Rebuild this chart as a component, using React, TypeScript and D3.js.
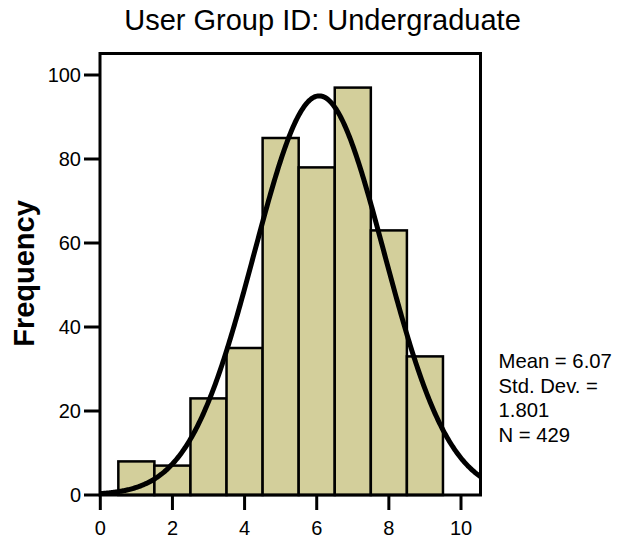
import React from "react";
import * as d3 from "d3";

const binCenters = [1, 2, 3, 4, 5, 6, 7, 8, 9];
const frequencies = [8, 7, 23, 35, 85, 78, 97, 63, 33];
const xTicks = [0, 2, 4, 6, 8, 10];
const yTicks = [0, 20, 40, 60, 80, 100];
const statsLines = ["Mean = 6.07", "Std. Dev. =", "1.801", "N = 429"];
const mean = 6.07;
const sd = 1.801;
const n = 429;
const binWidth = 1;

const W = 619;
const H = 542;
const left = 100;
const right = 480.5;
const top = 53.5;
const bottom = 495;
const font = "Liberation Sans, Arial, Helvetica, sans-serif";

export default function App() {
  const x = d3.scaleLinear().domain([0, 10]).range([100.3, 461]);
  const y = d3.scaleLinear().domain([0, 100]).range([495, 75]);
  const xMax = x.invert(right);
  const pdf = (v: number) =>
    (n * binWidth) / (sd * Math.sqrt(2 * Math.PI)) * Math.exp(-((v - mean) ** 2) / (2 * sd * sd));
  const pts = d3.range(0, 401).map((i) => (i / 400) * xMax);
  const line = d3
    .line<number>()
    .x((v) => x(v))
    .y((v) => y(pdf(v)))
    .curve(d3.curveLinear);

  return (
    <svg width={W} height={H} style={{ position: "absolute", left: 0, top: 0 }} fontFamily={font}>
      <rect x={0} y={0} width={W} height={H} fill="#ffffff" />
      <text x={322.5} y={30} textAnchor="middle" fontSize={29} fill="#000">
        User Group ID: Undergraduate
      </text>
      <defs>
        <clipPath id="plotclip">
          <rect x={left} y={top} width={right - left} height={bottom - top} />
        </clipPath>
      </defs>
      {binCenters.map((c, i) => (
        <rect
          key={c}
          x={x(c - binWidth / 2)}
          y={y(frequencies[i])}
          width={x(c + binWidth / 2) - x(c - binWidth / 2)}
          height={y(0) - y(frequencies[i])}
          fill="#d3cf9b"
          stroke="#000"
          strokeWidth={2.5}
        />
      ))}
      <path
        d={line(pts) || ""}
        fill="none"
        stroke="#000"
        strokeWidth={5}
        clipPath="url(#plotclip)"
      />
      <rect x={left} y={top} width={right - left} height={bottom - top} fill="none" stroke="#000" strokeWidth={3} />
      {yTicks.map((t) => (
        <g key={"y" + t}>
          <line x1={84} x2={left} y1={y(t)} y2={y(t)} stroke="#000" strokeWidth={3} />
          <text x={81} y={y(t) + 7} textAnchor="end" fontSize={20} fill="#000">
            {t}
          </text>
        </g>
      ))}
      {xTicks.map((t) => (
        <g key={"x" + t}>
          <line x1={x(t)} x2={x(t)} y1={bottom} y2={510} stroke="#000" strokeWidth={3} />
          <text x={x(t)} y={535} textAnchor="middle" fontSize={20} fill="#000">
            {t}
          </text>
        </g>
      ))}
      <text
        transform={`translate(34, 273.5) rotate(-90)`}
        textAnchor="middle"
        fontSize={29}
        fontWeight="bold"
        fill="#000"
      >
        Frequency
      </text>
      {statsLines.map((s, i) => (
        <text key={s} x={498.5} y={368 + i * 24.5} fontSize={20.3} fill="#000">
          {s}
        </text>
      ))}
    </svg>
  );
}
